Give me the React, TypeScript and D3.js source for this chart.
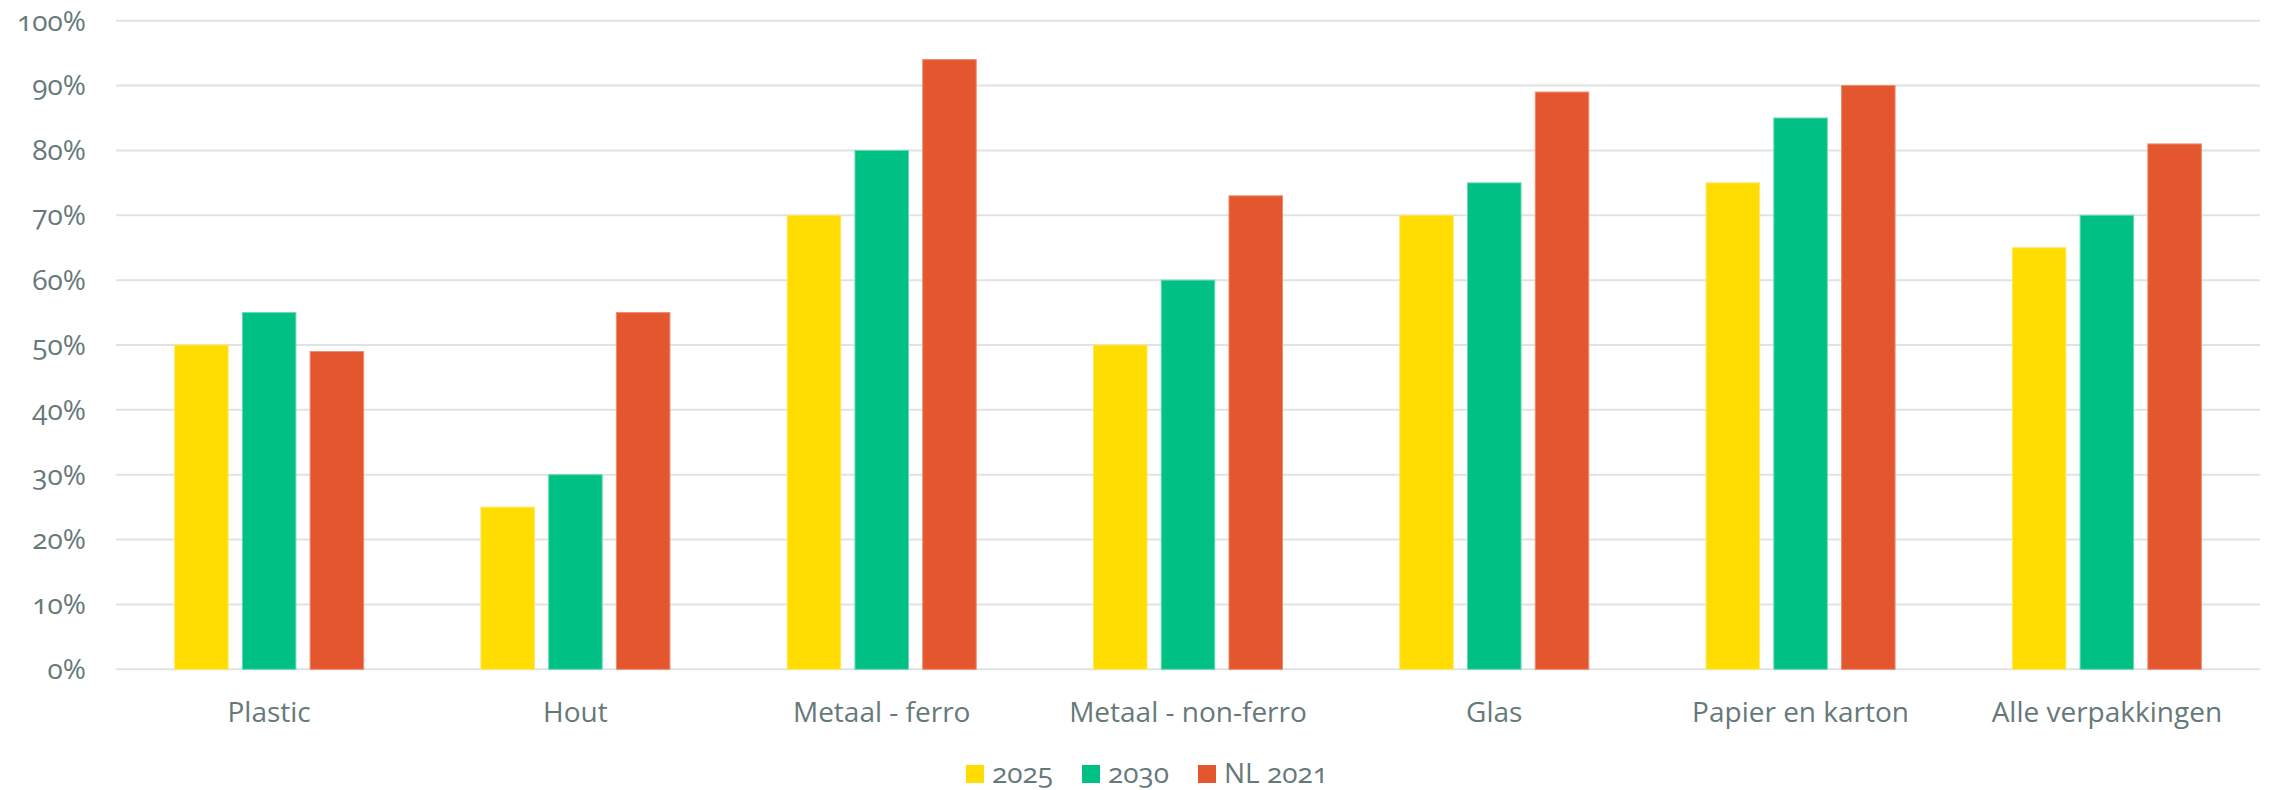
import React from "react";
import * as d3 from "d3";

const categories = ["Plastic", "Hout", "Metaal - ferro", "Metaal - non-ferro", "Glas", "Papier en karton", "Alle verpakkingen"];
const seriesNames = ["2025", "2030", "NL 2021"];
const values2025 = [50, 25, 70, 50, 70, 75, 65];
const values2030 = [55, 30, 80, 60, 75, 85, 70];
const valuesNL2021 = [49, 55, 94, 73, 89, 90, 81];
const colors = ["#FFDD00", "#00C183", "#E4572E"];
const strokes = ["#FFE766", "#66DAB5", "#EE8A6D"];
const yTicks = [0, 10, 20, 30, 40, 50, 60, 70, 80, 90, 100];

const W = 2270;
const H = 790;
const FONT = "'Open Sans', sans-serif";
const TEXT = "#66797a";

export default function App() {
  const series = [values2025, values2030, valuesNL2021];
  const x0 = d3.scaleBand<string>().domain(categories).range([116, 2260]).paddingInner(0).paddingOuter(0);
  const groupW = 189;
  const x1 = d3.scaleBand<string>().domain(seriesNames).range([0, groupW]).paddingInner(0.21).paddingOuter(0);
  const y = d3.scaleLinear().domain([0, 100]).range([669.3, 20.7]);

  const legendX = [966, 1082, 1198];

  return (
    <svg width={W} height={H} style={{ position: "absolute", left: 0, top: 0, background: "#fff" }} fontFamily={FONT}>
      {yTicks.map((t) => (
        <g key={t}>
          <line x1={116} x2={2260} y1={y(t)} y2={y(t)} stroke="#dfe3e2" strokeWidth={2} />
          <text x={86} y={y(t)} dy="0.35em" textAnchor="end" fontSize={28} fill={TEXT} style={{ fontVariantNumeric: "oldstyle-nums" }}>
            {t}%
          </text>
        </g>
      ))}
      {categories.map((c, i) => {
        const cx = (x0(c) as number) + x0.bandwidth() / 2;
        const gx = cx - groupW / 2;
        return (
          <g key={c}>
            {series.map((s, j) => {
              const bx = gx + (x1(seriesNames[j]) as number);
              return (
                <rect
                  key={j}
                  x={bx}
                  y={y(s[i])}
                  width={x1.bandwidth()}
                  height={y(0) - y(s[i])}
                  fill={colors[j]}
                  stroke={strokes[j]}
                  strokeWidth={1}
                />
              );
            })}
            <text x={cx} y={721.5} textAnchor="middle" fontSize={28} fill={TEXT}>
              {c}
            </text>
          </g>
        );
      })}
      {seriesNames.map((s, j) => (
        <g key={s}>
          <rect x={legendX[j]} y={765} width={18} height={18} fill={colors[j]} />
          <text x={legendX[j] + 26} y={782.5} fontSize={28} fill={TEXT} style={{ fontVariantNumeric: "oldstyle-nums" }}>
            {s}
          </text>
        </g>
      ))}
    </svg>
  );
}
